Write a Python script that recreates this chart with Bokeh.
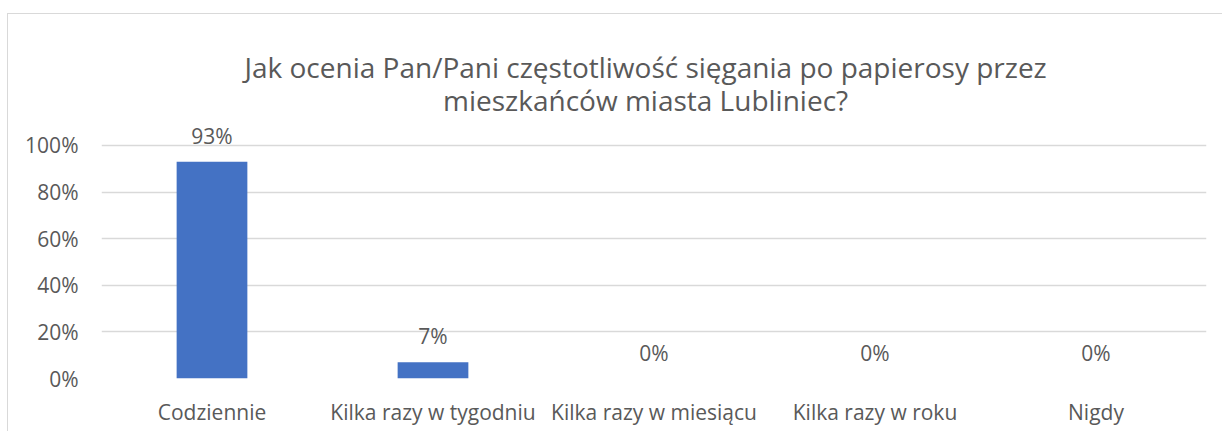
from bokeh.plotting import figure
from bokeh.models import FactorRange, Range1d, FixedTicker, NumeralTickFormatter, Label, ColumnDataSource
from bokeh.core.properties import value
from bokeh.embed import file_html
from bokeh.resources import INLINE

categories = ["Codziennie", "Kilka razy w tygodniu", "Kilka razy w miesiącu", "Kilka razy w roku", "Nigdy"]
values = [0.93, 0.07, 0.0, 0.0, 0.0]
value_labels = ["93%", "7%", "0%", "0%", "0%"]
y_ticks = [0, 0.2, 0.4, 0.6, 0.8, 1.0]
title_lines = ["Jak ocenia Pan/Pani częstotliwość sięgania po papierosy przez",
               "mieszkańców miasta Lubliniec?"]

FONT = "Open Sans"
TXT = "#595959"

src = ColumnDataSource(dict(cat=categories, val=values, lab=value_labels))

p = figure(x_range=FactorRange(*categories), y_range=Range1d(0, 1.562),
           width=1215, height=418, output_backend="svg", toolbar_location=None,
           min_border_left=93, min_border_right=17, min_border_top=0, min_border_bottom=54,
           margin=(13, 0, 0, 7))
p.styles = {"border-left": "1px solid #D9D9D9", "border-top": "1px solid #D9D9D9"}
p.outline_line_color = None
p.background_fill_color = "white"
p.border_fill_color = "white"

p.vbar(x="cat", top="val", width=0.32, source=src, fill_color="#4472C4", line_color=None)
p.text(x="cat", y="val", text="lab", source=src, text_align="center", text_baseline="alphabetic",
       y_offset=-26, text_font=value(FONT), text_font_size="21px", text_color=TXT)

p.yaxis.ticker = FixedTicker(ticks=y_ticks)
p.yaxis.formatter = NumeralTickFormatter(format="0%")
p.ygrid.ticker = FixedTicker(ticks=y_ticks)
p.ygrid.grid_line_color = "#D9D9D9"
p.ygrid.grid_line_width = 1.3
p.xgrid.grid_line_color = None

for ax in (p.xaxis, p.yaxis):
    ax.axis_line_color = None
    ax.major_tick_line_color = None
    ax.minor_tick_line_color = None
    ax.major_label_text_font = FONT
    ax.major_label_text_font_size = "21px"
    ax.major_label_text_color = TXT
p.yaxis.major_label_standoff = 17
p.xaxis.major_label_standoff = 13

for txt, yy in zip(title_lines, [1.335, 1.195]):
    p.add_layout(Label(x=2.462, y=yy, text=txt, text_align="center", text_baseline="middle",
                       text_font=FONT, text_font_size="28px", text_color=TXT))

open("out.html", "w").write(file_html(p, INLINE))
